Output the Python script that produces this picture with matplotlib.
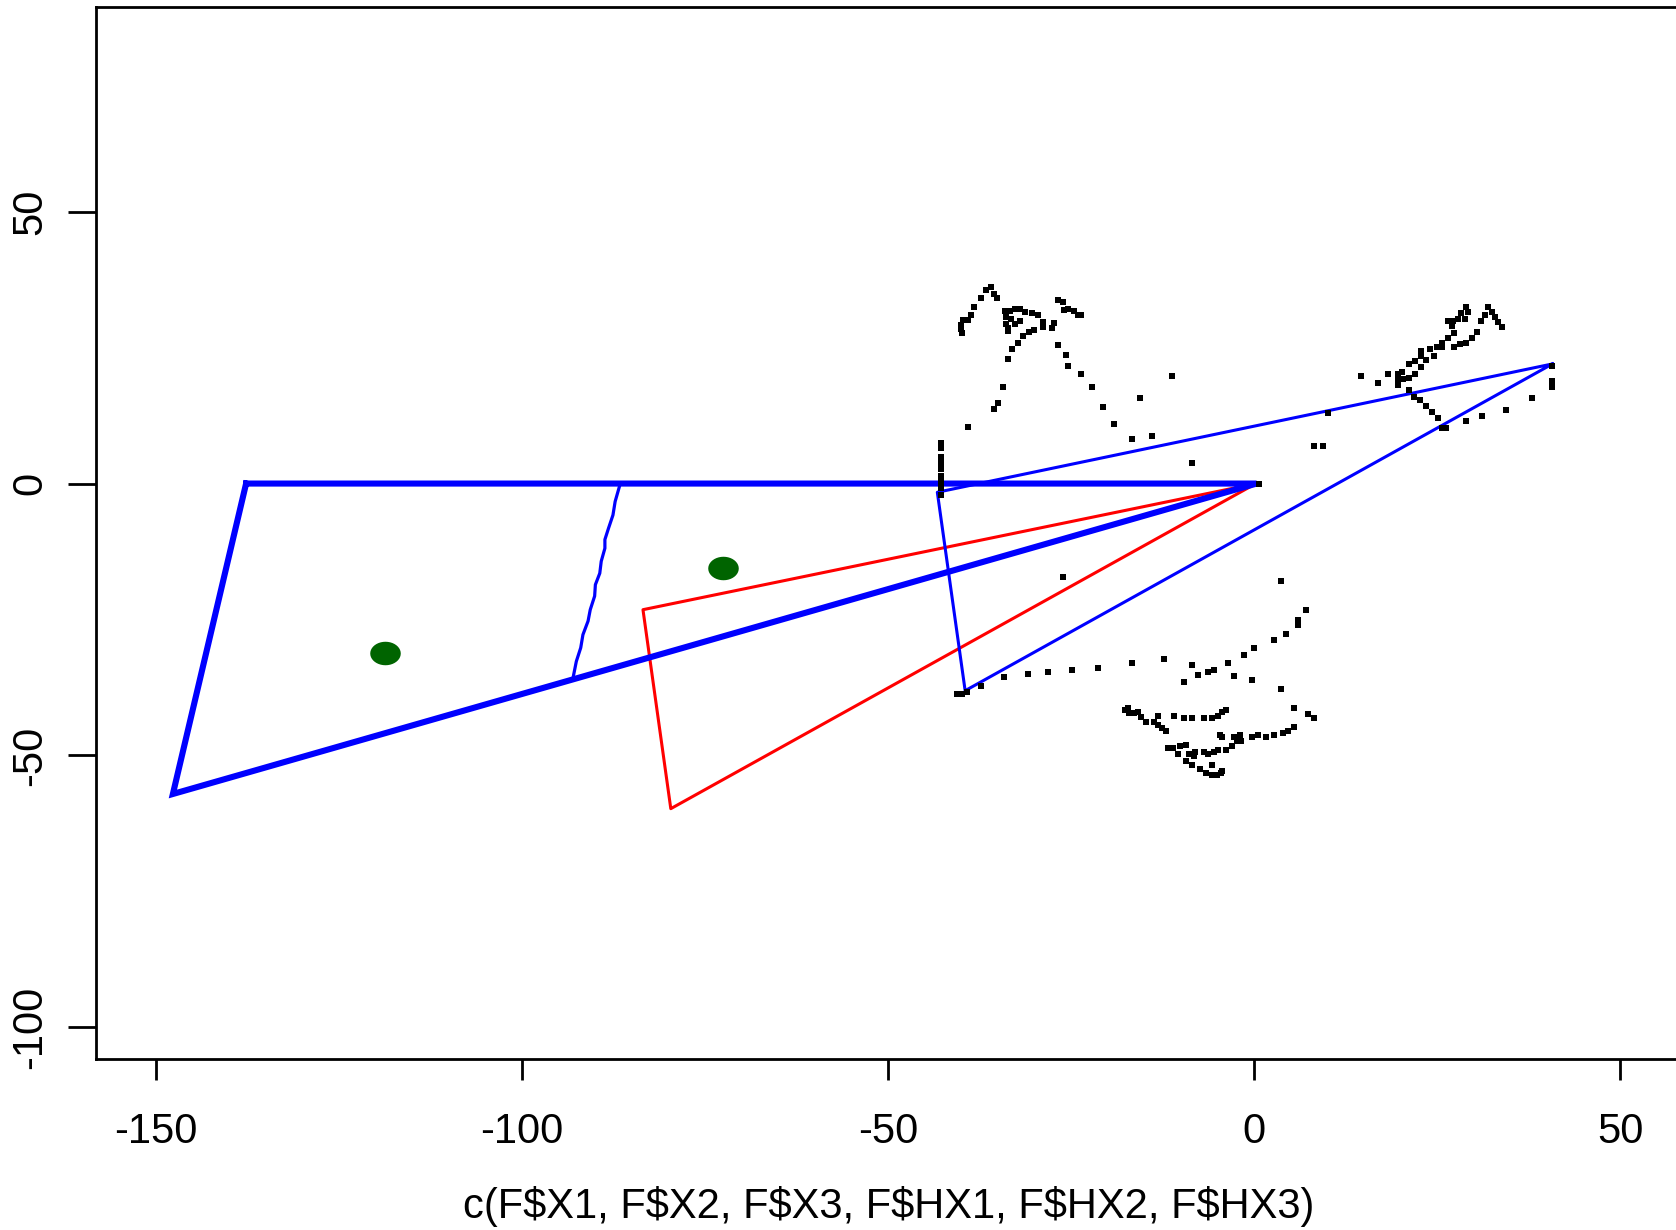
import matplotlib
matplotlib.use("Agg")
import matplotlib.pyplot as plt
import numpy as np

plt.rcParams['font.family'] = ['Liberation Sans', 'DejaVu Sans']

# ---- data ----
# thick blue outline (triangle)
big_x = [-137.7, 0.3, -147.7, -137.7]
big_y = [0.0, 0.0, -57.1, 0.0]

# red triangle
red_x = [0.2, -83.5, -79.7, 0.2]
red_y = [0.0, -23.2, -59.8, 0.0]

# thin blue triangle (the red one shifted)
thin_x = [40.7, -43.3, -39.5, 40.7]
thin_y = [22.0, -1.6, -38.1, 22.0]

# wiggly blue line inside the big triangle
wig_x = [-86.6, -87.3, -87.6, -88.2, -88.7, -88.7, -89.2, -89.4, -90.0,
         -90.1, -90.7, -91.0, -91.7, -92.0, -92.6, -93.0]
wig_y = [0.0, -3.3, -5.8, -8.2, -10.3, -11.9, -14.3, -16.5, -18.6,
         -20.7, -23.2, -25.3, -27.8, -30.2, -32.7, -35.4]

# green points
green_x = [-118.7, -72.6]
green_y = [-31.2, -15.5]

# black points, upper left group
ul_x = [-35.97, -36.70, -35.51, -35.10, -37.38, -38.25, -38.70, -39.16, -39.84, -40.07,
        -40.07, -39.88, -34.06, -33.37, -32.69, -32.01, -33.97, -33.24, -33.97, -33.60,
        -33.69, -32.69, -32.01, -31.33, -30.42, -29.60, -31.55, -30.78, -30.05, -28.82,
        -28.82, -27.32, -27.68, -26.86, -26.09, -25.95, -25.41, -24.59, -24.04, -23.68,
        -32.33, -33.15, -33.60, -34.28, -35.06, -35.51, -39.07,
        -42.80, -42.80, -42.80, -42.84, -42.84, -42.84, -42.84, -42.84, -42.84, -42.84,
        -26.86, -25.77, -25.41, -23.72, -22.22, -20.63, -19.12, -16.76, -15.67, -14.03,
        -8.56, -11.30, 8.19, 9.42, 0.6]
ul_y = [36.13, 35.52, 34.91, 34.11, 34.11, 32.46, 30.93, 30.02, 30.02, 29.22,
        28.37, 27.75, 31.67, 31.67, 32.16, 32.16, 30.63, 30.20, 29.41, 28.67,
        28.00, 29.41, 29.89, 31.55, 31.42, 31.06, 27.14, 27.88, 28.30, 29.71,
        28.79, 29.53, 28.61, 33.69, 33.38, 31.85, 32.16, 31.67, 31.06, 31.06,
        25.86, 24.82, 22.98, 17.79, 14.73, 13.63, 10.45,
        7.39, 6.47, 4.95, 3.85, 2.60, 1.46, 0.97, 0.06, -0.86, -2.08,
        25.55, 23.72, 21.64, 20.23, 17.79, 14.00, 10.88, 8.12, 15.77, 8.80,
        3.85, 19.81, 6.97, 6.97, 0.0]

# black points, upper right group
ur_x = [28.86, 29.13, 28.22, 28.77, 27.86, 27.17, 26.49, 26.94, 31.95, 32.41,
        31.50, 32.86, 33.32, 33.77, 30.95, 30.36, 29.68, 28.86, 28.08, 27.31,
        27.31, 26.49, 25.67, 25.67, 24.90, 23.99, 22.76, 24.58, 22.76, 23.39,
        21.94, 21.12, 22.76, 21.94, 20.21, 19.57, 21.12, 20.34, 19.57, 19.57,
        18.29, 16.84, 14.52, 10.10, 21.12, 21.85, 22.67, 23.39, 24.21, 25.03,
        25.67, 26.13, 28.86, 31.13, 34.32, 37.87, 40.60, 40.60, 40.60]
ur_y = [32.46, 31.54, 31.36, 30.32, 30.32, 29.83, 29.83, 28.98, 32.46, 31.54,
        30.93, 30.63, 29.71, 28.79, 29.83, 27.88, 26.78, 25.92, 25.74, 25.12,
        27.75, 26.78, 25.92, 25.12, 25.12, 24.82, 24.33, 23.47, 23.47, 22.68,
        22.50, 22.07, 21.46, 20.23, 20.54, 20.11, 19.44, 19.32, 19.01, 18.21,
        20.17, 18.52, 19.80, 12.89, 17.17, 15.83, 15.46, 14.30, 13.20, 11.98,
        10.14, 10.14, 11.55, 12.34, 13.57, 15.77, 21.64, 18.89, 17.79]

# black points, lower group
lo_x = [-26.09, -40.66, -39.98, -39.29, -37.38, -34.19, -30.87, -28.14, -24.95, -21.40,
        -16.76, -12.39, -8.56, -7.74, -9.66,
        3.59, 7.00, 5.91, 5.91, 4.27, 2.72, -0.01, -1.47, -3.56, -5.47,
        -6.29, -2.74, -0.37, 3.59, 5.45, 7.37, 8.18,
        -17.67, -17.22, -17.13, -16.44, -15.94, -15.53, -14.85, -13.67, -13.21, -12.67,
        -12.12, -13.21, -10.94, -9.66, -8.57, -6.93, -5.84, -5.02, -4.38, -3.92,
        -4.70, -4.38, -2.74, -1.97, -2.42, -1.83, -0.37, 0.45, 1.54, 2.72,
        3.95, 4.63, 5.45, -3.11, -3.92, -5.02, -5.56, -6.29, -6.93, -8.11,
        -8.20, -8.93, -9.39, -10.12, -10.48, -11.07, -11.76, -9.39, -8.57, -5.84,
        -7.38, -6.66, -5.84, -5.15, -4.56, -4.38]
lo_y = [-17.25, -38.77, -38.77, -38.28, -37.25, -35.59, -34.98, -34.62, -34.31, -33.88,
        -32.96, -32.23, -33.39, -35.29, -36.45,
        -17.98, -23.30, -25.01, -26.05, -27.70, -28.80, -30.27, -31.56, -33.02, -34.31,
        -34.67, -35.41, -36.14, -37.79, -41.28, -42.38, -43.05,
        -41.65, -41.34, -42.14, -42.26, -42.02, -42.87, -43.79, -43.79, -44.40, -44.89,
        -45.50, -42.75, -42.75, -43.11, -43.11, -43.11, -43.11, -42.75, -41.95, -41.65,
        -46.23, -46.60, -46.60, -46.23, -47.33, -47.33, -46.60, -46.23, -46.60, -46.23,
        -45.87, -45.50, -44.76, -48.25, -48.98, -48.98, -49.35, -49.78, -49.35, -49.35,
        -50.08, -49.72, -48.07, -48.25, -49.72, -48.68, -48.68, -51.00, -51.74, -51.74,
        -52.47, -53.20, -53.57, -53.57, -53.20, -52.84]

xticks = [-150, -100, -50, 0, 50]
xtick_labels = ['-150', '-100', '-50', '0', '50']
yticks = [-100, -50, 0, 50]
ytick_labels = ['-100', '-50', '0', '50']
xlabel = 'c(F$X1, F$X2, F$X3, F$HX1, F$HX2, F$HX3)'

# ---- figure ----
fig = plt.figure(figsize=(16.76, 12.30), dpi=100)
ax = fig.add_axes([96 / 1676, (1230 - 1059.3) / 1230,
                   (1682 - 96) / 1676, (1059.3 - 7.3) / 1230])

ax.plot(red_x, red_y, color='red', lw=2.2, zorder=2)
ax.plot(thin_x, thin_y, color='blue', lw=2.2, zorder=3)
ax.plot(big_x, big_y, color='blue', lw=4.4, zorder=3, solid_joinstyle='miter')
ax.plot(wig_x, wig_y, color='blue', lw=2.3, zorder=3)

for xs, ys in [(ul_x, ul_y), (ur_x, ur_y), (lo_x, lo_y)]:
    ax.plot(xs, ys, linestyle='none', marker='s', markersize=4.0,
            color='black', markeredgewidth=0, zorder=4)

# the dots in the original are a bit wider than tall
t = np.linspace(0, 2 * np.pi, 41)
oval = np.column_stack([1.3 * np.cos(t), np.sin(t)])
ax.plot(green_x, green_y, linestyle='none', marker=oval, markersize=22,
        color='#006400', markeredgewidth=0, zorder=4)

ax.set_xlim(-158.2, 58.4)
ax.set_ylim(-105.9, 87.6)

ax.set_xticks(xticks)
ax.set_xticklabels(xtick_labels)
ax.set_yticks(yticks)
ax.set_yticklabels(ytick_labels, rotation=90, va='center')

ax.tick_params(axis='x', length=15.1, width=2, pad=23, labelsize=30)
ax.tick_params(axis='y', length=20.2, width=2, pad=13, labelsize=30)

for side in ['left', 'bottom', 'top']:
    ax.spines[side].set_linewidth(2.0)
ax.spines['right'].set_visible(False)

ax.set_xlabel(xlabel, fontsize=30, parse_math=False)
ax.xaxis.set_label_coords(0.5, -0.1395)
ax.xaxis.label.set_va('center')

fig.savefig('out.png', dpi=100)
